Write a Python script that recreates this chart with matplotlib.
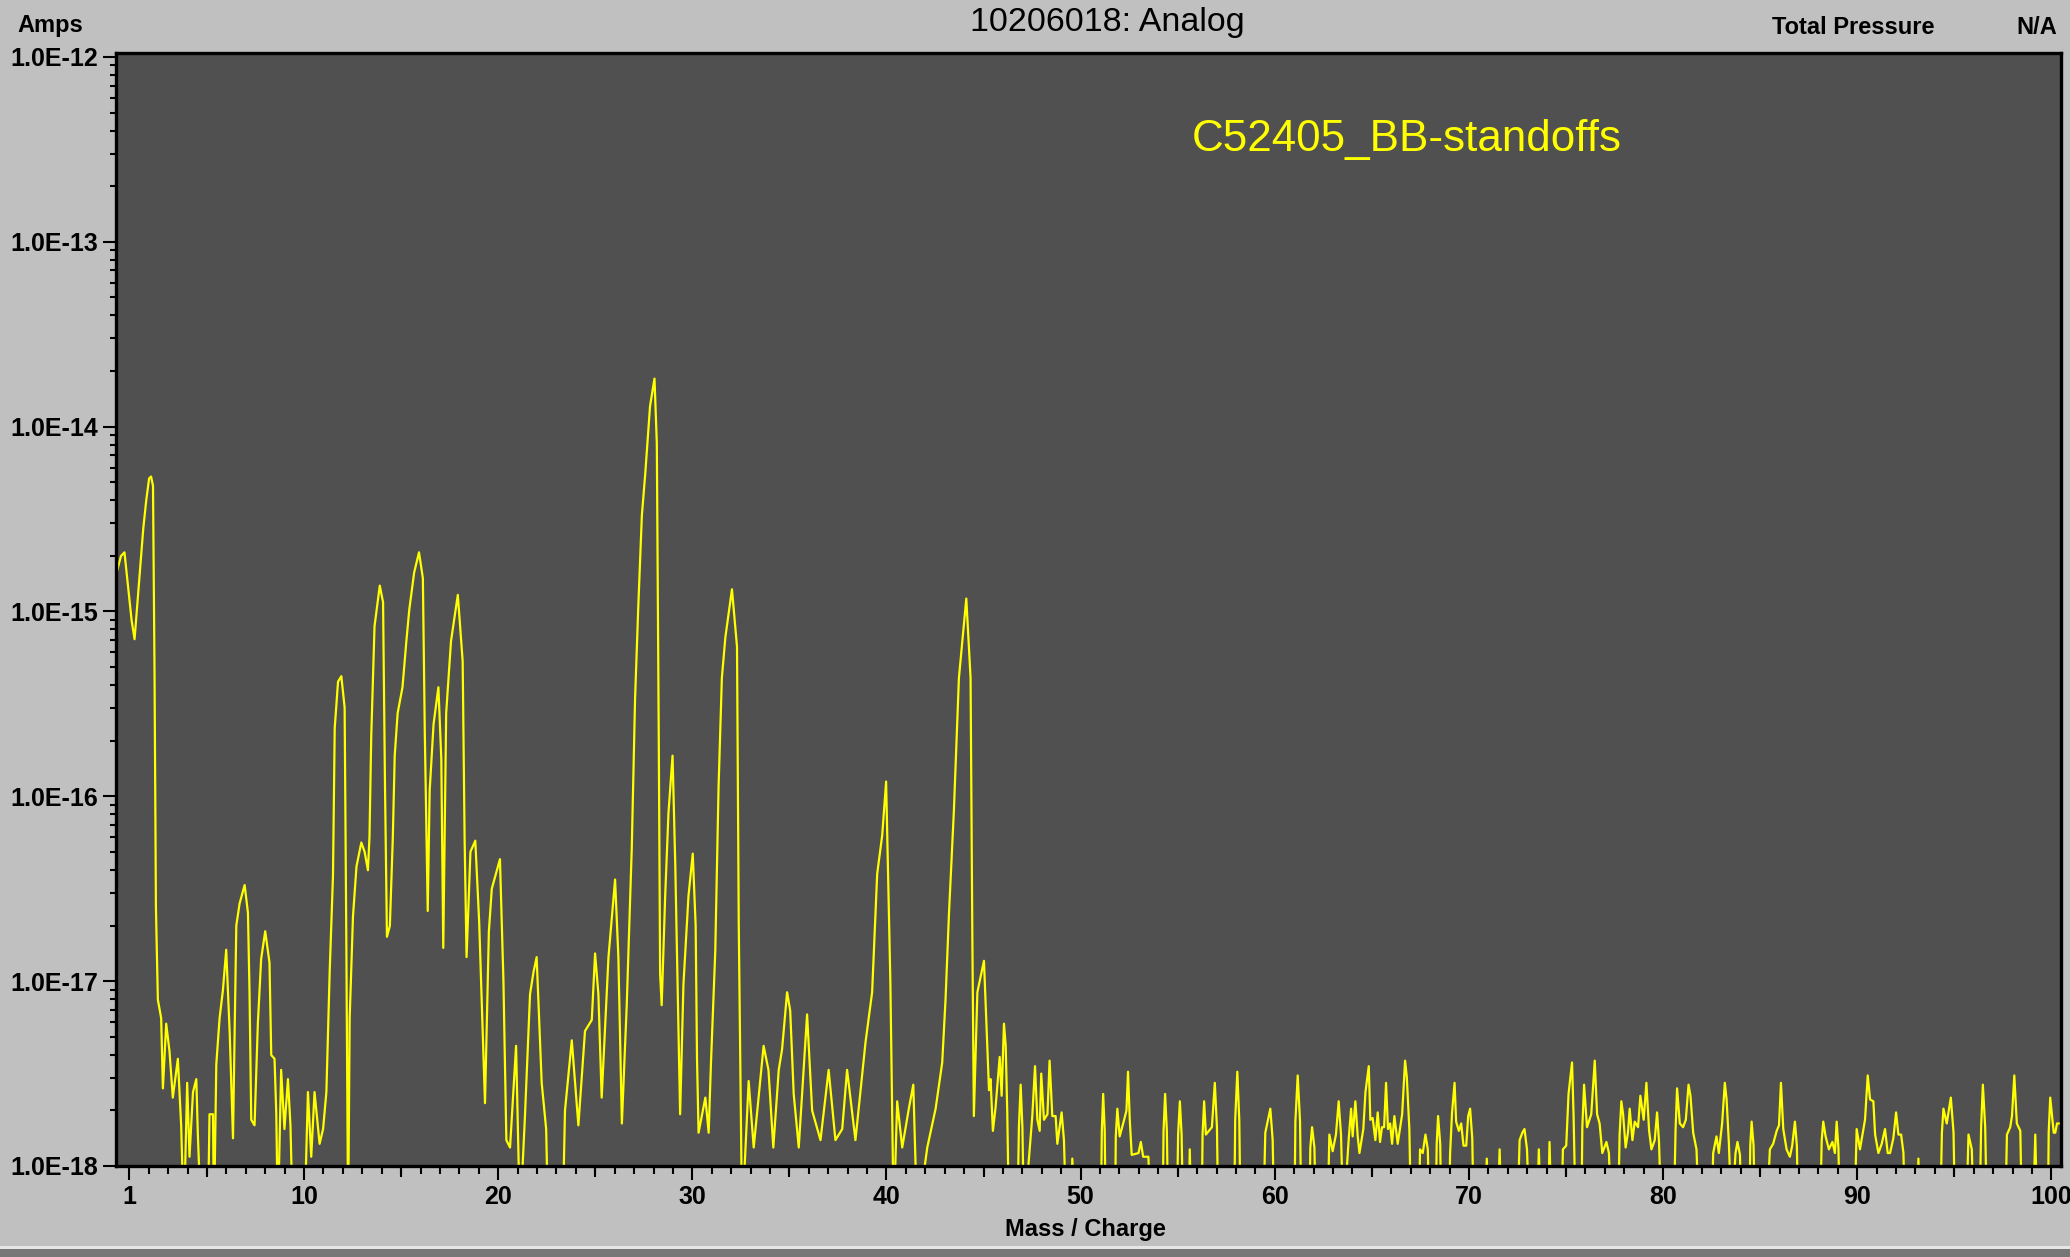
import numpy as np
import matplotlib
matplotlib.use("Agg")
import matplotlib.pyplot as plt
import matplotlib.transforms as mtransforms
from matplotlib.ticker import FixedLocator, LogLocator, FuncFormatter, NullFormatter
from matplotlib.patches import Rectangle

plt.rcParams['font.family'] = ['Liberation Sans', 'DejaVu Sans']
plt.rcParams['font.weight'] = 'bold'

# scan trace: mass/charge and log10(amps)
# -18.3 means the trace drops below the bottom of the axis
mz_low = [0.30, 0.37, 0.57, 0.75, 0.92, 1.12, 1.27, 1.42, 1.57, 1.72,
          1.87, 2.02, 2.12, 2.22, 2.30, 2.37, 2.47, 2.64, 2.73, 2.90,
          3.07, 3.24, 3.50, 3.67, 3.81, 3.98, 4.10, 4.28, 4.45, 4.53,
          4.70, 5.05, 5.13, 5.31, 5.36, 5.48, 5.65, 5.82, 5.99, 6.17,
          6.34, 6.51, 6.68, 6.94, 7.11, 7.19, 7.28, 7.45, 7.62, 7.79,
          8.00, 8.22, 8.31, 8.48, 8.57, 8.65, 8.82, 8.99, 9.17, 9.30,
          9.42, 10.02, 10.20, 10.37, 10.54, 10.80, 10.98, 11.15, 11.32, 11.49,
          11.58, 11.75, 11.92, 12.09, 12.18, 12.27, 12.35, 12.52, 12.70, 12.95,
          13.12, 13.29, 13.37, 13.46, 13.63, 13.90]
exp_low = [-14.80, -14.78, -14.70, -14.68, -14.85, -15.05, -15.15, -14.95, -14.75, -14.55,
           -14.40, -14.28, -14.27, -14.32, -15.35, -16.60, -17.10, -17.20, -17.58, -17.23,
           -17.38, -17.63, -17.42, -17.78, -18.3, -17.55, -17.95, -17.60, -17.53, -17.83,
           -18.3, -18.3, -17.72, -17.72, -18.3, -17.45, -17.20, -17.05, -16.83, -17.28,
           -17.85, -16.70, -16.58, -16.48, -16.63, -17.05, -17.75, -17.78, -17.23, -16.88,
           -16.73, -16.90, -17.40, -17.42, -17.72, -18.3, -17.48, -17.80, -17.53, -17.78,
           -18.3, -18.3, -17.60, -17.95, -17.60, -17.88, -17.80, -17.60, -16.95, -16.43,
           -15.63, -15.38, -15.35, -15.52, -16.83, -18.3, -17.20, -16.65, -16.38, -16.25,
           -16.30, -16.40, -16.22, -15.68, -15.08, -14.86]

mz_mid = [14.07, 14.17, 14.27, 14.42, 14.57, 14.67, 14.82, 15.07, 15.27, 15.42,
          15.67, 15.92, 16.12, 16.22, 16.37, 16.47, 16.67, 16.92, 17.07, 17.17,
          17.32, 17.57, 17.92, 18.17, 18.27, 18.37, 18.57, 18.82, 19.02, 19.32,
          19.52, 19.67, 20.09, 20.27, 20.42, 20.61, 20.92, 21.12, 21.37, 21.64,
          21.82, 21.98, 22.24, 22.47, 22.57, 23.32, 23.44, 23.79, 24.13, 24.47,
          24.82, 24.99, 25.16, 25.33, 25.68, 26.02, 26.19, 26.37, 26.62, 26.88,
          27.05, 27.22, 27.40, 27.57, 27.82, 28.05, 28.17, 28.27, 28.34, 28.42,
          28.60, 28.77, 28.98, 29.12, 29.29, 29.37, 29.54, 29.80, 30.02]
exp_mid = [-14.95, -15.95, -16.76, -16.70, -16.23, -15.78, -15.55, -15.41, -15.16, -14.99,
           -14.79, -14.68, -14.82, -15.66, -16.62, -15.97, -15.61, -15.41, -15.80, -16.82,
           -15.55, -15.16, -14.91, -15.27, -16.23, -16.87, -16.30, -16.24, -16.68, -17.66,
           -16.73, -16.50, -16.34, -17.00, -17.86, -17.90, -17.35, -18.3, -17.75, -17.07,
           -16.95, -16.87, -17.55, -17.80, -18.3, -18.3, -17.70, -17.32, -17.78, -17.27,
           -17.21, -16.85, -17.07, -17.63, -16.87, -16.45, -16.87, -17.77, -17.13, -16.28,
           -15.47, -14.96, -14.48, -14.26, -13.89, -13.74, -14.09, -15.69, -16.96, -17.13,
           -16.54, -16.09, -15.78, -16.37, -17.30, -17.72, -17.02, -16.54, -16.31]

mz_high = [30.17, 30.24, 30.32, 30.67, 30.84, 30.96, 31.18, 31.35, 31.52, 31.70,
           32.04, 32.30, 32.39, 32.56, 32.90, 33.16, 33.67, 33.92, 34.17, 34.45,
           34.62, 34.88, 35.04, 35.22, 35.48, 35.91, 36.17, 36.60, 37.02, 37.37,
           37.72, 37.97, 38.40, 38.92, 39.26, 39.52, 39.78, 39.98, 40.20, 40.37,
           40.55, 40.81, 41.15, 41.38, 41.58, 42.10, 42.53, 42.87, 43.04, 43.22,
           43.47, 43.73, 44.11, 44.33, 44.42, 44.50, 44.68, 45.02, 45.28]
exp_high = [-16.70, -17.42, -17.82, -17.63, -17.82, -17.44, -16.84, -15.95, -15.36, -15.14,
            -14.88, -15.19, -16.69, -18.3, -17.54, -17.90, -17.35, -17.48, -17.90, -17.48,
            -17.37, -17.06, -17.16, -17.61, -17.90, -17.18, -17.70, -17.86, -17.48, -17.86,
            -17.80, -17.48, -17.86, -17.33, -17.06, -16.42, -16.21, -15.92, -17.01, -18.3,
            -17.65, -17.90, -17.69, -17.56, -18.3, -17.90, -17.69, -17.44, -17.10, -16.63,
            -16.08, -15.36, -14.93, -15.36, -16.74, -17.73, -17.06, -16.89, -17.59]

mz_noise_a = [45.36, 45.48, 45.62, 45.83, 45.93, 46.05, 46.14, 46.22, 46.31, 46.74,
              46.82, 46.91, 47.00, 47.08, 47.51, 47.65, 47.77, 47.89, 47.97, 48.11,
              48.29, 48.40, 48.54, 48.71, 48.80, 49.02, 49.14, 49.26, 49.49, 49.57,
              49.71, 51.04, 51.09, 51.16, 51.24, 51.29, 51.77, 51.81, 51.89, 52.01,
              52.24, 52.36, 52.44, 52.53, 52.63, 52.98, 53.10, 53.22, 53.49, 53.61,
              54.22, 54.27, 54.35, 54.44, 54.51, 54.95, 55.02, 55.11, 55.20, 55.28,
              55.56, 55.62, 55.71, 56.23, 56.28, 56.36, 56.45, 56.76, 56.91, 57.02,
              57.09, 57.91, 57.96, 58.07, 58.17, 58.24, 59.41, 59.51, 59.77, 59.89,
              59.97, 61.01, 61.06, 61.18, 61.30, 61.37, 61.78, 61.83, 61.92, 62.04,
              62.12, 62.72, 62.81, 62.98, 63.15, 63.29, 63.41, 63.53, 63.81, 63.93,
              64.01, 64.15]
exp_noise_a = [-17.53, -17.81, -17.68, -17.41, -17.62, -17.23, -17.35, -17.71, -18.3, -18.3,
               -17.79, -17.56, -17.79, -18.3, -17.73, -17.46, -17.75, -17.81, -17.50, -17.75,
               -17.72, -17.43, -17.73, -17.73, -17.88, -17.71, -17.86, -18.3, -18.3, -17.96,
               -18.3, -18.3, -17.81, -17.61, -17.81, -18.3, -18.3, -17.84, -17.69, -17.84,
               -17.75, -17.70, -17.49, -17.75, -17.94, -17.93, -17.87, -17.95, -17.95, -18.3,
               -18.3, -17.81, -17.61, -17.81, -18.3, -18.3, -17.83, -17.65, -17.83, -18.3,
               -18.3, -17.91, -18.3, -18.3, -17.83, -17.65, -17.83, -17.79, -17.55, -17.79,
               -18.3, -18.3, -17.75, -17.49, -17.75, -18.3, -18.3, -17.82, -17.69, -17.86,
               -18.3, -18.3, -17.76, -17.51, -17.76, -18.3, -18.3, -17.90, -17.79, -17.90,
               -18.3, -18.3, -17.83, -17.92, -17.83, -17.65, -17.83, -18.3, -17.85, -17.69,
               -17.84, -17.65]

mz_noise_b = [64.27, 64.36, 64.56, 64.67, 64.84, 64.92, 65.04, 65.18, 65.30, 65.42,
              65.52, 65.63, 65.73, 65.83, 65.94, 66.04, 66.16, 66.33, 66.56, 66.71,
              66.80, 66.93, 67.02, 67.42, 67.48, 67.62, 67.76, 67.88, 67.97, 68.28,
              68.34, 68.41, 68.52, 68.58, 68.96, 69.03, 69.13, 69.26, 69.34, 69.48,
              69.60, 69.72, 69.86, 69.96, 70.06, 70.17, 70.25, 70.80, 70.92, 71.03,
              71.47, 71.58, 71.68, 72.49, 72.61, 72.75, 72.86, 72.99, 73.12, 73.50,
              73.60, 73.72, 74.07, 74.15, 74.26, 74.76, 74.84, 75.01, 75.13, 75.31,
              75.39, 75.50, 75.79, 75.84, 75.93, 76.08, 76.30, 76.48, 76.60, 76.73,
              76.87, 77.08, 77.21, 77.33, 77.68, 77.76, 77.85, 77.94, 78.07, 78.19,
              78.28, 78.42, 78.54, 78.71, 78.83, 79.00, 79.14, 79.28, 79.40, 79.57,
              79.69, 79.79, 79.91, 80.55, 80.64, 80.72, 80.86, 81.03, 81.17, 81.31,
              81.41, 81.55, 81.72, 81.86, 82.49, 82.58, 82.75]
exp_noise_b = [-17.84, -17.93, -17.80, -17.60, -17.46, -17.75, -17.74, -17.86, -17.71, -17.87,
               -17.79, -17.79, -17.55, -17.80, -17.77, -17.88, -17.73, -17.88, -17.72, -17.43,
               -17.52, -17.80, -18.3, -18.3, -17.91, -17.93, -17.83, -17.91, -18.3, -18.3,
               -17.88, -17.73, -17.88, -18.3, -18.3, -17.93, -17.71, -17.55, -17.76, -17.81,
               -17.77, -17.89, -17.89, -17.73, -17.69, -17.85, -18.3, -18.3, -17.96, -18.3,
               -18.3, -17.91, -18.3, -18.3, -17.86, -17.82, -17.80, -17.91, -18.3, -18.3,
               -17.91, -18.3, -18.3, -17.87, -18.3, -18.3, -17.91, -17.89, -17.61, -17.44,
               -17.73, -18.3, -18.3, -17.79, -17.56, -17.79, -17.72, -17.43, -17.72, -17.77,
               -17.93, -17.87, -17.93, -18.3, -18.3, -17.83, -17.65, -17.72, -17.90, -17.82,
               -17.69, -17.86, -17.76, -17.79, -17.62, -17.75, -17.55, -17.81, -17.91, -17.86,
               -17.71, -17.87, -18.3, -18.3, -17.81, -17.58, -17.77, -17.79, -17.75, -17.56,
               -17.62, -17.82, -17.91, -18.3, -18.3, -17.93, -17.84]

mz_noise_c = [82.87, 83.04, 83.18, 83.27, 83.39, 83.53, 83.73, 83.83, 83.96, 84.04,
              84.44, 84.49, 84.56, 84.66, 84.73, 85.33, 85.50, 85.67, 85.85, 85.97,
              86.07, 86.19, 86.36, 86.53, 86.65, 86.79, 86.89, 86.96, 88.08, 88.17,
              88.25, 88.37, 88.54, 88.72, 88.85, 88.94, 89.03, 89.11, 89.85, 89.97,
              90.14, 90.40, 90.54, 90.66, 90.83, 90.92, 91.09, 91.26, 91.43, 91.57,
              91.69, 91.86, 92.00, 92.12, 92.26, 92.38, 92.46, 93.07, 93.15, 93.26,
              94.27, 94.36, 94.44, 94.61, 94.82, 94.96, 95.04, 95.61, 95.73, 95.90,
              96.01, 96.30, 96.38, 96.47, 96.59, 96.68, 97.62, 97.71, 97.88, 97.97,
              98.09, 98.22, 98.40, 98.48, 99.05, 99.17, 99.27, 99.82, 99.86, 99.94,
              100.12, 100.20, 100.29, 100.41, 100.70]
exp_noise_c = [-17.93, -17.77, -17.55, -17.64, -17.88, -18.3, -17.93, -17.87, -17.94, -18.3,
               -18.3, -17.89, -17.76, -17.89, -18.3, -18.3, -17.91, -17.88, -17.81, -17.78,
               -17.55, -17.80, -17.91, -17.95, -17.89, -17.76, -17.89, -18.3, -18.3, -17.86,
               -17.76, -17.84, -17.91, -17.87, -17.93, -17.76, -17.90, -18.3, -18.3, -17.80,
               -17.91, -17.75, -17.51, -17.64, -17.65, -17.83, -17.93, -17.88, -17.80, -17.93,
               -17.93, -17.85, -17.71, -17.83, -17.83, -17.93, -18.3, -18.3, -17.96, -18.3,
               -18.3, -17.82, -17.69, -17.77, -17.63, -17.82, -18.3, -18.3, -17.83, -17.91,
               -18.3, -18.3, -17.79, -17.56, -17.79, -18.3, -18.3, -17.83, -17.79, -17.73,
               -17.51, -17.77, -17.81, -18.3, -18.3, -17.83, -18.3, -18.3, -17.82, -17.63,
               -17.82, -17.82, -17.77, -17.77, -17.77]

x_major = [1, 10, 20, 30, 40, 50, 60, 70, 80, 90, 100]
x_mid = [5, 15, 25, 35, 45, 55, 65, 75, 85, 95]
x_minor = list(range(1, 101))
y_major = [1e-18, 1e-17, 1e-16, 1e-15, 1e-14, 1e-13, 1e-12]

title_text = "10206018: Analog"
sample_name = "C52405_BB-standoffs"

mz = np.concatenate([mz_low, mz_mid, mz_high, mz_noise_a, mz_noise_b, mz_noise_c])
amps = 10.0 ** np.concatenate([exp_low, exp_mid, exp_high, exp_noise_a, exp_noise_b, exp_noise_c])

fig = plt.figure(figsize=(20.7, 12.57), dpi=100, facecolor='#c0c0c0')

# status bar strip at the very bottom of the window
fig.patches.append(Rectangle((0, 0), 1, 8 / 1257, transform=fig.transFigure,
                             facecolor='#777777', edgecolor='none', zorder=0))
fig.patches.append(Rectangle((0, 8 / 1257), 1, 3 / 1257, transform=fig.transFigure,
                             facecolor='#e6e6e6', edgecolor='none', zorder=0))

ax = fig.add_axes([0.0560, 0.0724, 0.9397, 0.8854])
ax.set_facecolor('#505050')
ax.plot(mz, amps, color='#ffff00', lw=1.6)

ax.set_yscale('log')
ax.set_xlim(0.31, 100.5)
ax.set_ylim(1e-18, 1.05e-12)

for sp in ax.spines.values():
    sp.set_linewidth(2.4)
    sp.set_color('black')

ax.yaxis.set_major_locator(FixedLocator(y_major))
ax.yaxis.set_minor_locator(LogLocator(base=10, subs=np.arange(2, 10), numticks=20))
ax.yaxis.set_minor_formatter(NullFormatter())
ax.yaxis.set_major_formatter(FuncFormatter(lambda v, p: f"{v:.1E}"))

ax.xaxis.set_major_locator(FixedLocator(x_major))
ax.xaxis.set_minor_locator(FixedLocator(x_minor))
ax.set_xticklabels([str(v) for v in x_major])

ax.tick_params(axis='both', which='major', direction='out', width=1.5, color='black',
               labelsize=18, labelcolor='black')
ax.tick_params(axis='y', which='major', length=9.4, pad=3.5)
ax.tick_params(axis='y', which='minor', length=4.3, width=1.5)
ax.tick_params(axis='x', which='major', length=10, pad=4)
ax.tick_params(axis='x', which='minor', length=6, width=1.5)

# slightly longer ticks at the fives
trans = mtransforms.blended_transform_factory(ax.transData, ax.transAxes)
ax.vlines(x_mid, -0.0095, 0, transform=trans, clip_on=False, color='black', lw=1.5)

fig.text(0.5348, 0.9821, title_text, ha='center', va='center', fontsize=24.5,
         fontweight='normal', color='black')
fig.text(0.0082, 0.980, "Amps", ha='left', va='center', fontsize=17)
fig.text(0.856, 0.9785, "Total Pressure", ha='left', va='center', fontsize=17)
fig.text(0.9937, 0.9785, "N/A", ha='right', va='center', fontsize=17)
fig.text(0.5246, 0.0215, "Mass / Charge", ha='center', va='center', fontsize=17)
fig.text(0.5758, 0.8894, sample_name, ha='left', va='center', fontsize=31.7,
         fontweight='normal', color='#ffff00')

fig.savefig("out.png", dpi=100, facecolor=fig.get_facecolor())
